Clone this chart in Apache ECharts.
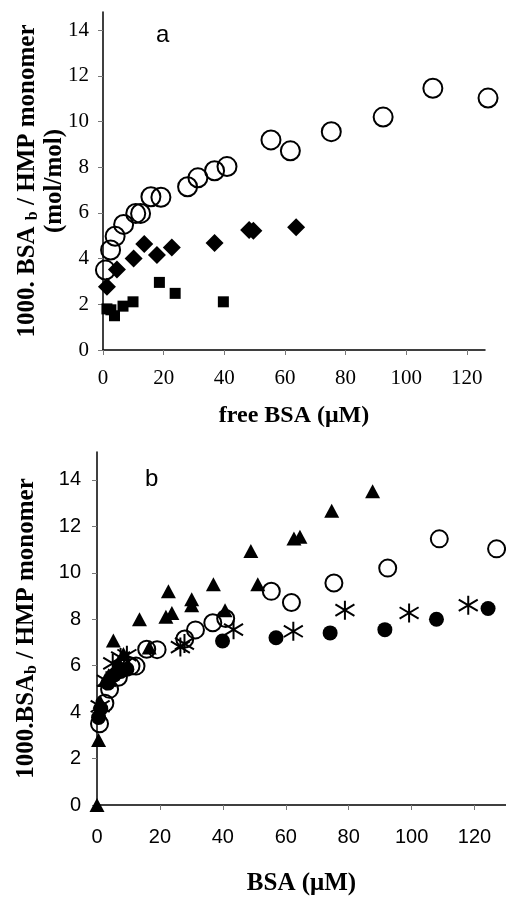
<!DOCTYPE html>
<html><head><meta charset="utf-8">
<script src="https://cdn.jsdelivr.net/npm/echarts@6/dist/echarts.min.js"></script>
<style>html,body{margin:0;padding:0;background:#fff}#c{width:506px;height:897px}</style>
</head><body><div id="c"></div>
<script>
// ---- Panel a data ----
const openX = [0.8, 2.5, 4.0, 6.8, 10.8, 12.4, 15.8, 19.1, 27.9, 31.3, 36.8, 40.9, 55.4, 61.8, 75.3, 92.4, 108.8, 127.0];
const openY = [3.50, 4.38, 4.98, 5.50, 5.98, 5.98, 6.71, 6.69, 7.15, 7.54, 7.85, 8.03, 9.20, 8.72, 9.56, 10.20, 11.46, 11.03];
const diamondX = [1.3, 4.6, 10.1, 13.6, 17.8, 22.7, 36.8, 48.2, 49.6, 63.7];
const diamondY = [2.77, 3.53, 4.01, 4.64, 4.16, 4.49, 4.69, 5.25, 5.22, 5.37];
const squareX = [1.3, 2.6, 3.8, 6.6, 9.9, 18.6, 23.8, 39.7];
const squareY = [1.80, 1.76, 1.50, 1.92, 2.11, 2.96, 2.48, 2.11];
// ---- Panel b data ----
const triX = [0, 0.5, 0.8, 1.0, 2.6, 3.7, 5.2, 6.8, 8.4, 13.5, 16.6, 21.9, 22.7, 23.8, 30.1, 30.1, 37.0, 40.7, 48.9, 51.1, 62.6, 64.5, 74.6, 87.6];
const triY = [0, 2.8, 4.0, 4.45, 5.38, 5.59, 7.08, 6.15, 6.5, 8.0, 6.78, 8.11, 9.2, 8.27, 8.86, 8.6, 9.51, 8.39, 10.94, 9.51, 11.48, 11.55, 12.67, 13.51];
const dotX = [0.5, 1.2, 3.5, 5.5, 7.5, 9.5, 39.9, 56.9, 74.1, 91.5, 107.9, 124.3];
const dotY = [3.77, 4.15, 5.25, 5.6, 5.75, 5.85, 7.06, 7.2, 7.41, 7.55, 8.0, 8.46];
const starX = [1.0, 3.0, 5.0, 7.5, 9.5, 26.5, 27.8, 43.4, 62.4, 78.8, 99.2, 118.0];
const starY = [4.25, 5.35, 6.1, 6.35, 6.45, 6.8, 6.95, 7.55, 7.48, 8.39, 8.27, 8.6];
// ---- Axis ticks ----
const yTicks = [0, 2, 4, 6, 8, 10, 12, 14];
const xTicks = [0, 20, 40, 60, 80, 100, 120];

const zip = (xs, ys) => xs.map((x, i) => [x, ys[i]]);
const SERIF = 'Liberation Serif', SANS = 'Liberation Sans';
const starPath = 'path://M10,0 L10,20 M0,4 L20,16 M0,16 L20,4';

function axisCommon(font) {
  return {
    axisLine: { show: true, onZero: false, lineStyle: { color: '#000', width: 1.5 } },
    axisTick: { show: true, inside: false, length: 5, lineStyle: { color: '#777', width: 1 } },
    splitLine: { show: false },
    axisLabel: { color: '#000', fontFamily: font, fontSize: 20 }
  };
}

const chart = echarts.init(document.getElementById('c'), null, { renderer: 'canvas' });
const titleRich = (size) => ({
  t: { fontFamily: SERIF, fontWeight: 'bold', fontSize: size, lineHeight: 27, color: '#000', align: 'center' },
  s: { fontFamily: SERIF, fontWeight: 'bold', fontSize: Math.round(size * 0.65), lineHeight: 27, verticalAlign: 'bottom', color: '#000', align: 'center' }
});

const xa0 = axisCommon(SERIF), ya0 = axisCommon(SERIF), xa1 = axisCommon(SANS), ya1 = axisCommon(SANS);
const hollow = { color: 'rgba(0,0,0,0)', borderColor: '#000', borderWidth: 2, opacity: 1 };
const solid = { color: '#000', opacity: 1 };

chart.setOption({
  animation: false,
  backgroundColor: '#fff',
  grid: [
    { left: 103, top: 12, width: 382, height: 338 },
    { left: 97, top: 452, width: 409, height: 361 }
  ],
  xAxis: [
    Object.assign({}, xa0, {
      gridIndex: 0, type: 'value', min: 0, max: 126,
      axisTick: Object.assign({}, xa0.axisTick, { customValues: xTicks }),
      axisLabel: Object.assign({}, xa0.axisLabel, { customValues: xTicks, margin: 18, fontSize: 21 }),
      name: 'free BSA (μM)', nameLocation: 'middle', nameGap: 54,
      nameTextStyle: { fontFamily: SERIF, fontWeight: 'bold', fontSize: 24, color: '#000' }
    }),
    Object.assign({}, xa1, {
      gridIndex: 1, type: 'value', min: 0, max: 130,
      axisTick: Object.assign({}, xa1.axisTick, { customValues: xTicks }),
      axisLabel: Object.assign({}, xa1.axisLabel, { customValues: xTicks, margin: 22 }),
      name: 'BSA (μM)', nameLocation: 'middle', nameGap: 66,
      nameTextStyle: { fontFamily: SERIF, fontWeight: 'bold', fontSize: 25, color: '#000' }
    })
  ],
  yAxis: [
    Object.assign({}, ya0, {
      gridIndex: 0, type: 'value', min: 0, max: 14.8,
      axisTick: Object.assign({}, ya0.axisTick, { customValues: yTicks }),
      axisLabel: Object.assign({}, ya0.axisLabel, { customValues: yTicks, margin: 14, fontSize: 21 }),
      name: '{t|1000. BSA }{s|b}{t| / HMP monomer}\n{t|(mol/mol)}',
      nameLocation: 'middle', nameGap: 35, nameMoveOverlap: false,
      nameTextStyle: { rich: titleRich(25) }
    }),
    Object.assign({}, ya1, {
      gridIndex: 1, type: 'value', min: 0, max: 15.2,
      axisTick: Object.assign({}, ya1.axisTick, { customValues: yTicks }),
      axisLabel: Object.assign({}, ya1.axisLabel, { customValues: yTicks, margin: 16 }),
      name: '{t|1000.BSA}{s|b}{t| / HMP monomer}',
      nameLocation: 'middle', nameGap: 57, nameMoveOverlap: false,
      nameTextStyle: { rich: titleRich(25) }
    })
  ],
  graphic: [
    { type: 'text', left: 156, top: 23, style: { text: 'a', font: '24px "Liberation Sans"', fill: '#000' } },
    { type: 'text', left: 145, top: 467, style: { text: 'b', font: '24px "Liberation Sans"', fill: '#000' } }
  ],
  series: [
    { type: 'scatter', clip: false, xAxisIndex: 0, yAxisIndex: 0, data: zip(openX, openY), symbol: 'circle', symbolSize: 19,
      itemStyle: hollow },
    { type: 'scatter', clip: false, xAxisIndex: 0, yAxisIndex: 0, data: zip(diamondX, diamondY), symbol: 'diamond', symbolSize: 18,
      itemStyle: solid },
    { type: 'scatter', clip: false, xAxisIndex: 0, yAxisIndex: 0, data: zip(squareX, squareY), symbol: 'rect', symbolSize: 11,
      itemStyle: solid },

    { type: 'scatter', xAxisIndex: 1, yAxisIndex: 1, data: zip(openX, openY), symbol: 'circle', symbolSize: 17,
      itemStyle: hollow },
    { type: 'scatter', xAxisIndex: 1, yAxisIndex: 1, data: zip(starX, starY), symbol: starPath, symbolSize: [19, 19],
      itemStyle: hollow },
    { type: 'scatter', xAxisIndex: 1, yAxisIndex: 1, data: zip(dotX, dotY), symbol: 'circle', symbolSize: 15,
      itemStyle: solid },
    { type: 'scatter', clip: false, xAxisIndex: 1, yAxisIndex: 1, data: zip(triX, triY), symbol: 'triangle', symbolSize: [15, 14],
      itemStyle: solid }
  ]
});
</script></body></html>
